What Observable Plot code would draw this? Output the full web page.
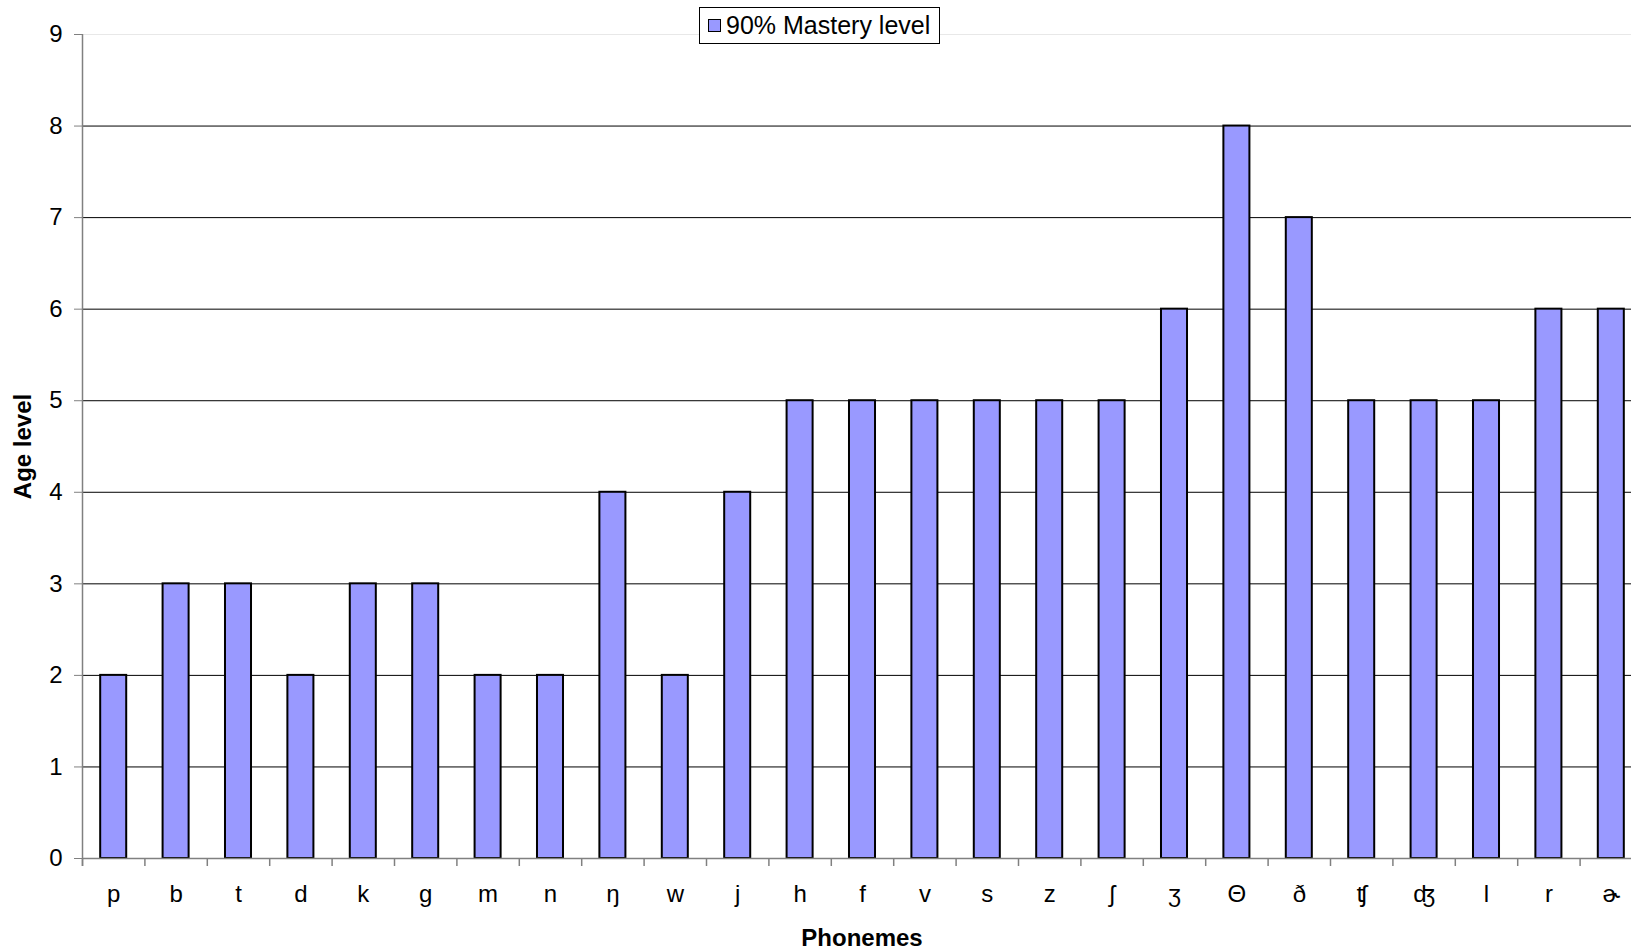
<!DOCTYPE html>
<html>
<head>
<meta charset="utf-8">
<script src="https://cdn.jsdelivr.net/npm/d3@7"></script>
<script src="https://cdn.jsdelivr.net/npm/@observablehq/plot@0.6"></script>
<style>
  html, body { margin: 0; padding: 0; background: #fff; }
  #wrap { position: relative; width: 1631px; height: 951px; overflow: hidden; }
  #legend {
    position: absolute; left: 699px; top: 7px; width: 239px; height: 35px;
    border: 1px solid #000; background: #fff; box-sizing: content-box;
    font: 25px "Liberation Sans", Arial, sans-serif; color: #000;
    display: flex; align-items: center;
  }
  #legend .sw {
    width: 11px; height: 11px; background: #9999ff; border: 1.5px solid #000;
    margin-left: 8px; margin-right: 5px; flex: none;
  }
</style>
</head>
<body>
<div id="wrap"></div>
<script>
const phonemes = ["p","b","t","d","k","g","m","n","ŋ","w","j","h","f","v","s","z","ʃ","ʒ","Θ","ð","ʧ","ʤ","l","r","ɚ"];
const ages = [2,3,3,2,3,3,2,2,4,2,4,5,5,5,5,5,5,6,8,7,5,5,5,6,6];
const yTicks = [0,1,2,3,4,5,6,7,8,9];
const seriesName = "90% Mastery level";
const xTitle = "Phonemes";
const yTitle = "Age level";

const data = phonemes.map((p, i) => ({phoneme: p, age: ages[i]}));
const font = '"Liberation Sans", Arial, sans-serif';

const plot = Plot.plot({
  width: 1631,
  height: 951,
  marginLeft: 82,
  marginRight: 0,
  marginTop: 34,
  marginBottom: 93,
  style: {fontFamily: font, fontSize: "24px", background: "white", color: "#000"},
  x: {domain: phonemes, range: [82, 1642], paddingInner: 0.583, paddingOuter: 0.2915, round: false},
  y: {domain: [0, 9]},
  marks: [
    Plot.ruleY(yTicks.filter(d => d > 0 && d < 9), {stroke: "#000", strokeWidth: 1}),
    Plot.ruleY([9], {stroke: "#e8e8e8", strokeWidth: 1}),
    Plot.barY(data, {x: "phoneme", y: "age", fill: "#9999ff", stroke: "#000", strokeWidth: 2}),
    Plot.ruleY([0], {stroke: "#808080", strokeWidth: 1.5}),
    Plot.ruleX(phonemes, {x: d => d, y1: 0, y2: 0, insetBottom: -8, dx: -31.2, stroke: "#808080", strokeWidth: 1.5}),
    Plot.ruleX([phonemes[0]], {x: d => d, y1: 9, y2: 0, insetBottom: -8, dx: -31.2, stroke: "#808080", strokeWidth: 1.5}),
    Plot.axisY({ticks: yTicks, tickSize: 8, tickPadding: 12, label: null, stroke: "#808080", fill: "#000"}),
    Plot.axisX({tickSize: 0, tickPadding: 26, label: null, fill: "#000"}),
    Plot.text([yTitle], {frameAnchor: "left", textAnchor: "middle", lineAnchor: "middle", rotate: -90, dx: -59, fontWeight: "bold", fontSize: 24, fill: "#000"}),
    Plot.text([xTitle], {frameAnchor: "bottom", textAnchor: "middle", lineAnchor: "middle", dx: 5, dy: 80, fontWeight: "bold", fontSize: 24, fill: "#000"})
  ]
});

const wrap = document.getElementById("wrap");
wrap.appendChild(plot);
const legend = document.createElement("div");
legend.id = "legend";
legend.innerHTML = '<span class="sw"></span><span></span>';
legend.lastChild.textContent = seriesName;
wrap.appendChild(legend);
</script>
</body>
</html>
